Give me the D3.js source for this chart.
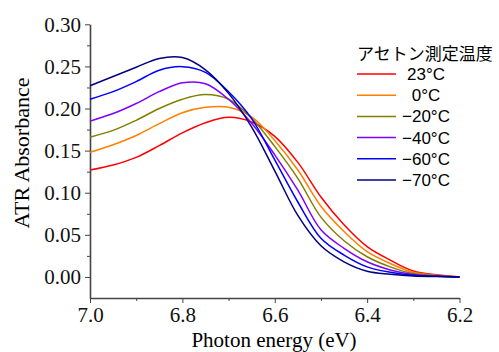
<!DOCTYPE html>
<html>
<head>
<meta charset="utf-8">
<script src="https://cdn.jsdelivr.net/npm/d3@7"></script>
<style>
  body { margin: 0; background: #fff; }
  svg { display: block; }
  .axis path, .axis line { stroke: #444; }
  .axis text { font-family: "Liberation Serif", "Times New Roman", serif; font-size: 21px; fill: #111; }
</style>
</head>
<body>
<svg width="499" height="352"></svg>
<script>
// photon energy (eV) sample points
var energy = [7.0, 6.95, 6.9, 6.85, 6.8, 6.75, 6.7, 6.65, 6.6, 6.55, 6.5, 6.45, 6.4, 6.35, 6.3, 6.25, 6.2];

var temps = ["23\u00b0C", "0\u00b0C", "\u221220\u00b0C", "\u221240\u00b0C", "\u221260\u00b0C", "\u221270\u00b0C"];
var colors = ["#ff0000", "#ff8000", "#808000", "#8000ff", "#0000ff", "#000080"];

var abs23  = [0.127, 0.133, 0.142, 0.156, 0.171, 0.183, 0.1895, 0.184, 0.167, 0.136, 0.095, 0.062, 0.036, 0.020, 0.0071, 0.0025, 0.0];
var abs0   = [0.148, 0.157, 0.168, 0.182, 0.195, 0.2015, 0.2015, 0.190, 0.162, 0.127, 0.084, 0.054, 0.030, 0.016, 0.0055, 0.002, 0.0];
var absM20 = [0.166, 0.174, 0.186, 0.200, 0.211, 0.2165, 0.211, 0.1885, 0.155, 0.117, 0.071, 0.043, 0.024, 0.012, 0.004, 0.0015, 0.0];
var absM40 = [0.185, 0.194, 0.206, 0.220, 0.2305, 0.2295, 0.211, 0.1825, 0.145, 0.103, 0.056, 0.034, 0.018, 0.0083, 0.003, 0.001, 0.0];
var absM60 = [0.211, 0.220, 0.232, 0.2455, 0.2497, 0.243, 0.220, 0.188, 0.139, 0.089, 0.046, 0.026, 0.012, 0.0056, 0.002, 0.0008, 0.0];
var absM70 = [0.227, 0.238, 0.249, 0.2595, 0.2605, 0.246, 0.218, 0.178, 0.126, 0.073, 0.037, 0.018, 0.0068, 0.0032, 0.001, 0.0004, 0.0];

var series = [abs23, abs0, absM20, absM40, absM60, absM70];

var xMajor = [7.0, 6.8, 6.6, 6.4, 6.2];
var xMinor = [6.9, 6.7, 6.5, 6.3];
var yMajor = [0.00, 0.05, 0.10, 0.15, 0.20, 0.25, 0.30];
var yMinor = [0.025, 0.075, 0.125, 0.175, 0.225, 0.275];

var legendTitle = "アセトン測定温度";

var svg = d3.select("svg");

var x = d3.scaleLinear().domain([7.0, 6.2]).range([90, 459.5]);
var y = d3.scaleLinear().domain([-0.025, 0.30]).range([298, 24.3]);

// axes
svg.append("g")
	.attr("class", "axis")
	.attr("transform", "translate(0,298)")
	.call(d3.axisBottom(x).tickValues(xMinor).tickSize(3).tickSizeOuter(0).tickFormat(""))
	.select(".domain").remove();
var gx = svg.append("g")
	.attr("class", "axis")
	.attr("transform", "translate(0,298)")
	.call(d3.axisBottom(x).tickValues(xMajor).tickSize(5).tickSizeOuter(0).tickPadding(4).tickFormat(d3.format(".1f")));
gx.select(".domain").attr("stroke-width", 1.6);

svg.append("g")
	.attr("class", "axis")
	.attr("transform", "translate(90,0)")
	.call(d3.axisLeft(y).tickValues(yMinor).tickSize(3).tickSizeOuter(0).tickFormat(""))
	.select(".domain").remove();
var gy = svg.append("g")
	.attr("class", "axis")
	.attr("transform", "translate(90,0)")
	.call(d3.axisLeft(y).tickValues(yMajor).tickSize(5).tickSizeOuter(0).tickPadding(4).tickFormat(d3.format(".2f")));
gy.select(".domain").attr("stroke-width", 1.6);

// axis titles
svg.append("text")
	.attr("transform", "translate(29,153) rotate(-90)")
	.attr("text-anchor", "middle")
	.style("font-family", "'Liberation Serif', 'Times New Roman', serif")
	.style("font-size", "22px")
	.text("ATR Absorbance");

svg.append("text")
	.attr("x", 274)
	.attr("y", 347)
	.attr("text-anchor", "middle")
	.style("font-family", "'Liberation Serif', 'Times New Roman', serif")
	.style("font-size", "21px")
	.text("Photon energy (eV)");

// curves
var line = d3.line()
	.x(function(d, i) { return x(energy[i]); })
	.y(function(d) { return y(d); })
	.curve(d3.curveCatmullRom.alpha(0.5));

svg.append("g")
	.selectAll("path")
	.data(series)
	.enter().append("path")
		.attr("d", line)
		.attr("fill", "none")
		.attr("stroke", function(d, i) { return colors[i]; })
		.attr("stroke-width", 1.5);

// legend
var lg = svg.append("g");
lg.append("text")
	.attr("x", 357)
	.attr("y", 60)
	.style("font-family", "'Noto Sans CJK JP', sans-serif")
	.style("font-size", "17px")
	.text(legendTitle);

var item = lg.selectAll("g.item")
	.data(temps)
	.enter().append("g")
		.attr("class", "item")
		.attr("transform", function(d, i) { return "translate(0," + (74 + i * 21.2) + ")"; });
item.append("line")
	.attr("x1", 357).attr("x2", 396)
	.attr("stroke", function(d, i) { return colors[i]; })
	.attr("stroke-width", 1.5);
item.append("text")
	.attr("x", 426)
	.attr("y", 6)
	.attr("text-anchor", "middle")
	.style("font-family", "'Liberation Sans', Arial, sans-serif")
	.style("font-size", "17px")
	.text(function(d) { return d; });
</script>
</body>
</html>
